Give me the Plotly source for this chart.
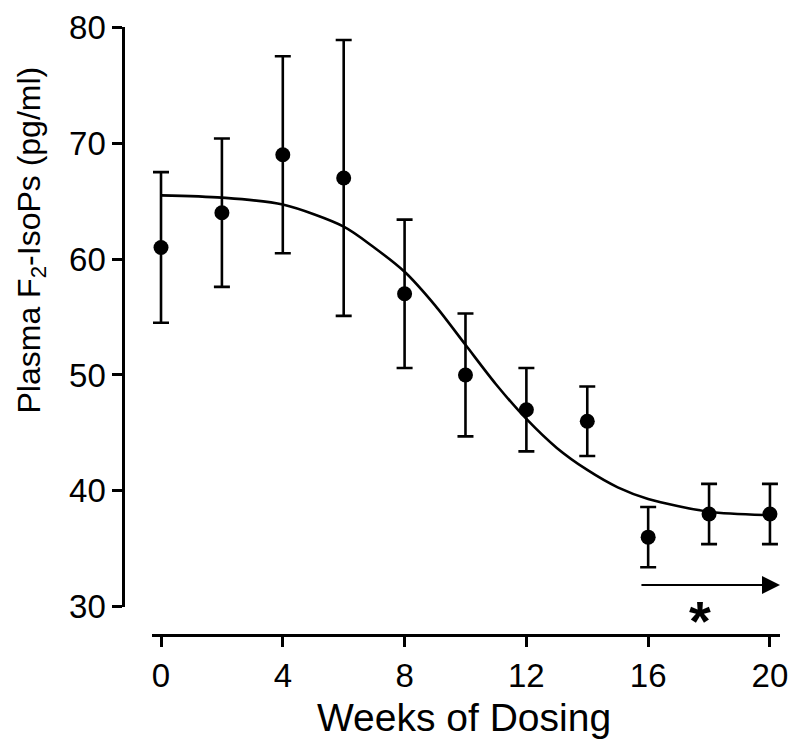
import plotly.graph_objects as go

# ---- data ----
weeks = [0, 2, 4, 6, 8, 10, 12, 14, 16, 18, 20]
isops_mean = [61.0, 64.0, 69.0, 67.0, 57.0, 50.0, 47.0, 46.0, 36.0, 38.0, 38.0]
isops_err_up = [6.5, 6.4, 8.5, 11.9, 6.4, 5.3, 3.6, 3.0, 2.6, 2.6, 2.6]
isops_err_down = [6.5, 6.4, 8.5, 11.9, 6.4, 5.3, 3.6, 3.0, 2.6, 2.6, 2.6]

fit_weeks = [0, 2, 4, 6, 7, 8, 9, 10, 11, 12, 13, 14, 15, 16, 18, 20]
fit_values = [65.5, 65.3, 64.7, 62.8, 61.0, 58.9, 56.0, 52.6, 49.2, 46.2, 43.7, 41.8, 40.3, 39.3, 38.2, 37.9]

x_ticks = [0, 4, 8, 12, 16, 20]
y_ticks = [30, 40, 50, 60, 70, 80]

arrow_start, arrow_end, arrow_level = 15.73, 20.33, 31.87
star_week = 17.7

FONT = "Liberation Sans, Arial, Helvetica, sans-serif"

W, H = 800, 748
OFF = 8  # page body margin shifts the figure by this many pixels
ML, MR, MT, MB = 100, 10, 5, 100
PW, PH = W - ML - MR, H - MT - MB


def px_x(p):
    return (p - OFF - ML) / PW


def px_y(p):
    return (H - MB - (p - OFF)) / PH


fig = go.Figure()

fig.add_trace(go.Scatter(
    x=fit_weeks, y=fit_values, mode="lines",
    line=dict(color="black", width=2.6, shape="spline", smoothing=0.8),
    hoverinfo="skip", showlegend=False,
))

fig.add_trace(go.Scatter(
    x=weeks, y=isops_mean, mode="markers",
    marker=dict(color="black", size=15),
    error_y=dict(type="data", symmetric=False, array=isops_err_up,
                 arrayminus=isops_err_down, color="black", thickness=2.6, width=8),
    cliponaxis=False, showlegend=False,
))

fig.update_layout(
    width=W, height=H, autosize=False,
    margin=dict(l=ML, r=MR, t=MT, b=MB, autoexpand=False),
    paper_bgcolor="white", plot_bgcolor="white",
    font=dict(family=FONT, color="black"),
    showlegend=False,
    xaxis=dict(
        domain=[px_x(152), px_x(780)],
        range=[-0.296, 20.33],
        anchor="free", position=px_y(635), automargin=False,
        tickvals=x_ticks, ticktext=[str(v) for v in x_ticks],
        ticks="outside", ticklen=10, tickwidth=2.8, tickcolor="black",
        showline=True, linewidth=2.8, linecolor="black",
        showgrid=False, zeroline=False,
        tickfont=dict(size=33, family=FONT, color="black"),
    ),
    yaxis=dict(
        domain=[px_y(606.7), px_y(27.3)],
        range=[30, 80],
        anchor="free", position=px_x(123.3), automargin=False,
        tickvals=y_ticks, ticktext=[str(v) for v in y_ticks],
        ticks="outside", ticklen=10, tickwidth=2.8, tickcolor="black",
        showline=True, linewidth=2.8, linecolor="black",
        showgrid=False, zeroline=False,
        tickfont=dict(size=33, family=FONT, color="black"),
    ),
    annotations=[
        dict(text="Weeks of Dosing", xref="paper", yref="paper",
             x=px_x(464), y=px_y(717), xanchor="center", yanchor="middle",
             showarrow=False, font=dict(size=39, family=FONT, color="black")),
        dict(text="Plasma F<sub>2</sub>-IsoPs (pg/ml)", xref="paper", yref="paper",
             x=px_x(31.5), y=px_y(240), xanchor="center", yanchor="middle",
             textangle=-90, showarrow=False,
             font=dict(size=32, family=FONT, color="black")),
        dict(x=arrow_end, y=arrow_level, ax=arrow_start, ay=arrow_level,
             xref="x", yref="y", axref="x", ayref="y",
             showarrow=True, arrowhead=2, arrowsize=1.8, arrowwidth=2,
             arrowcolor="black", text=""),
        dict(text="<b>*</b>", xref="x", yref="paper",
             x=star_week, y=px_y(620), xanchor="center", yanchor="middle",
             showarrow=False, font=dict(size=56, family=FONT, color="black")),
    ],
)

fig.write_html("out.html")
